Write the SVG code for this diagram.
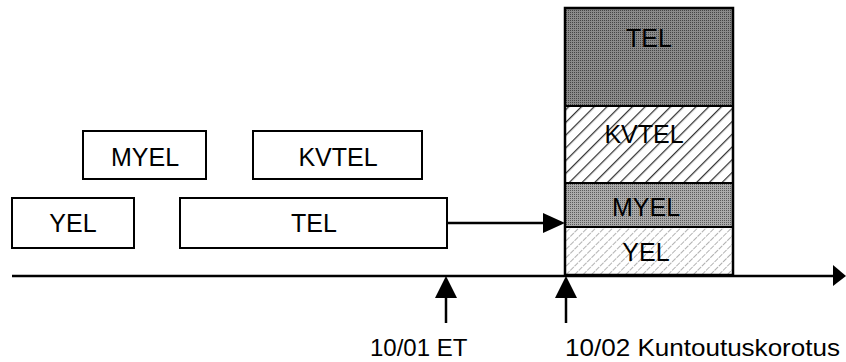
<svg xmlns="http://www.w3.org/2000/svg" width="846" height="362" viewBox="0 0 846 362">
<defs>
<style>
.box{fill:#fff;stroke:#000;stroke-width:2}
.lbl{font-family:"Liberation Sans",Arial,sans-serif;font-size:25px;fill:#000;text-anchor:middle}
.axl{font-family:"Liberation Sans",Arial,sans-serif;font-size:24px;fill:#000}
.ln{stroke:#000;stroke-width:2.5;fill:none}
.seg{stroke:#000;stroke-width:2}
</style>
<pattern id="hatchK" patternUnits="userSpaceOnUse" width="9" height="9" patternTransform="rotate(45)">
<rect width="9" height="9" fill="#fff"/>
<line x1="0" y1="0" x2="0" y2="9" stroke="#333" stroke-width="2.5"/>
</pattern>
<pattern id="hatchY" patternUnits="userSpaceOnUse" width="6" height="6" patternTransform="rotate(45)">
<rect width="6" height="6" fill="#fff"/>
<line x1="0" y1="0" x2="0" y2="6" stroke="#999" stroke-width="1.5" stroke-dasharray="4 1"/>
</pattern>
<pattern id="dot" patternUnits="userSpaceOnUse" width="2" height="2">
<rect width="2" height="2" fill="#8a8a8a"/>
<rect width="1" height="1" fill="#444"/>
</pattern>
<pattern id="dotM" patternUnits="userSpaceOnUse" width="2" height="2">
<rect width="2" height="2" fill="#aaaaaa"/>
<rect width="1" height="1" fill="#5a5a5a"/>
</pattern>
</defs>
<rect width="846" height="362" fill="#fff"/>

<g id="node-myel"><rect class="box" x="83" y="131" width="123" height="48"/><text class="lbl" x="145" y="166">MYEL</text></g>
<g id="node-kvtel"><rect class="box" x="253" y="131" width="169" height="48"/><text class="lbl" x="338" y="166">KVTEL</text></g>
<g id="node-yel"><rect class="box" x="12" y="198" width="122" height="50"/><text class="lbl" x="73" y="232">YEL</text></g>
<g id="node-tel"><rect class="box" x="180" y="198" width="267" height="50"/><text class="lbl" x="314" y="232">TEL</text></g>

<g id="stack">
<rect x="565" y="8" width="168" height="98" fill="url(#dot)"/>
<rect x="565" y="106" width="168" height="77" fill="url(#hatchK)"/>
<rect x="565" y="183" width="168" height="44" fill="url(#dotM)"/>
<rect x="565" y="227" width="168" height="48" fill="url(#hatchY)"/>
<rect x="565" y="8" width="168" height="267" fill="none" stroke="#000" stroke-width="2.5"/>
<line class="seg" x1="565" y1="106" x2="733" y2="106"/>
<line class="seg" x1="565" y1="183" x2="733" y2="183"/>
<line class="seg" x1="565" y1="227" x2="733" y2="227"/>
<text class="lbl" x="649" y="47">TEL</text>
<text class="lbl" x="644" y="143">KVTEL</text>
<text class="lbl" x="646" y="216">MYEL</text>
<text class="lbl" x="646" y="261">YEL</text>
</g>

<g id="connectors">
<line class="ln" x1="447" y1="223" x2="545" y2="223"/>
<polygon points="543,213 565,223 543,233" fill="#000"/>
<line class="ln" x1="12" y1="276" x2="835" y2="276"/>
<polygon points="833,265 846,276 833,286" fill="#000"/>
<line class="ln" x1="446" y1="295" x2="446" y2="323"/>
<polygon points="446,276 435,298 457,298" fill="#000"/>
<line class="ln" x1="566" y1="295" x2="566" y2="323"/>
<polygon points="566,276 555,298 577,298" fill="#000"/>
</g>

<g id="labels">
<text class="axl" x="370" y="356">10/01 ET</text>
<text class="axl" x="565" y="356" textLength="275" lengthAdjust="spacingAndGlyphs">10/02 Kuntoutuskorotus</text>
</g>
</svg>
